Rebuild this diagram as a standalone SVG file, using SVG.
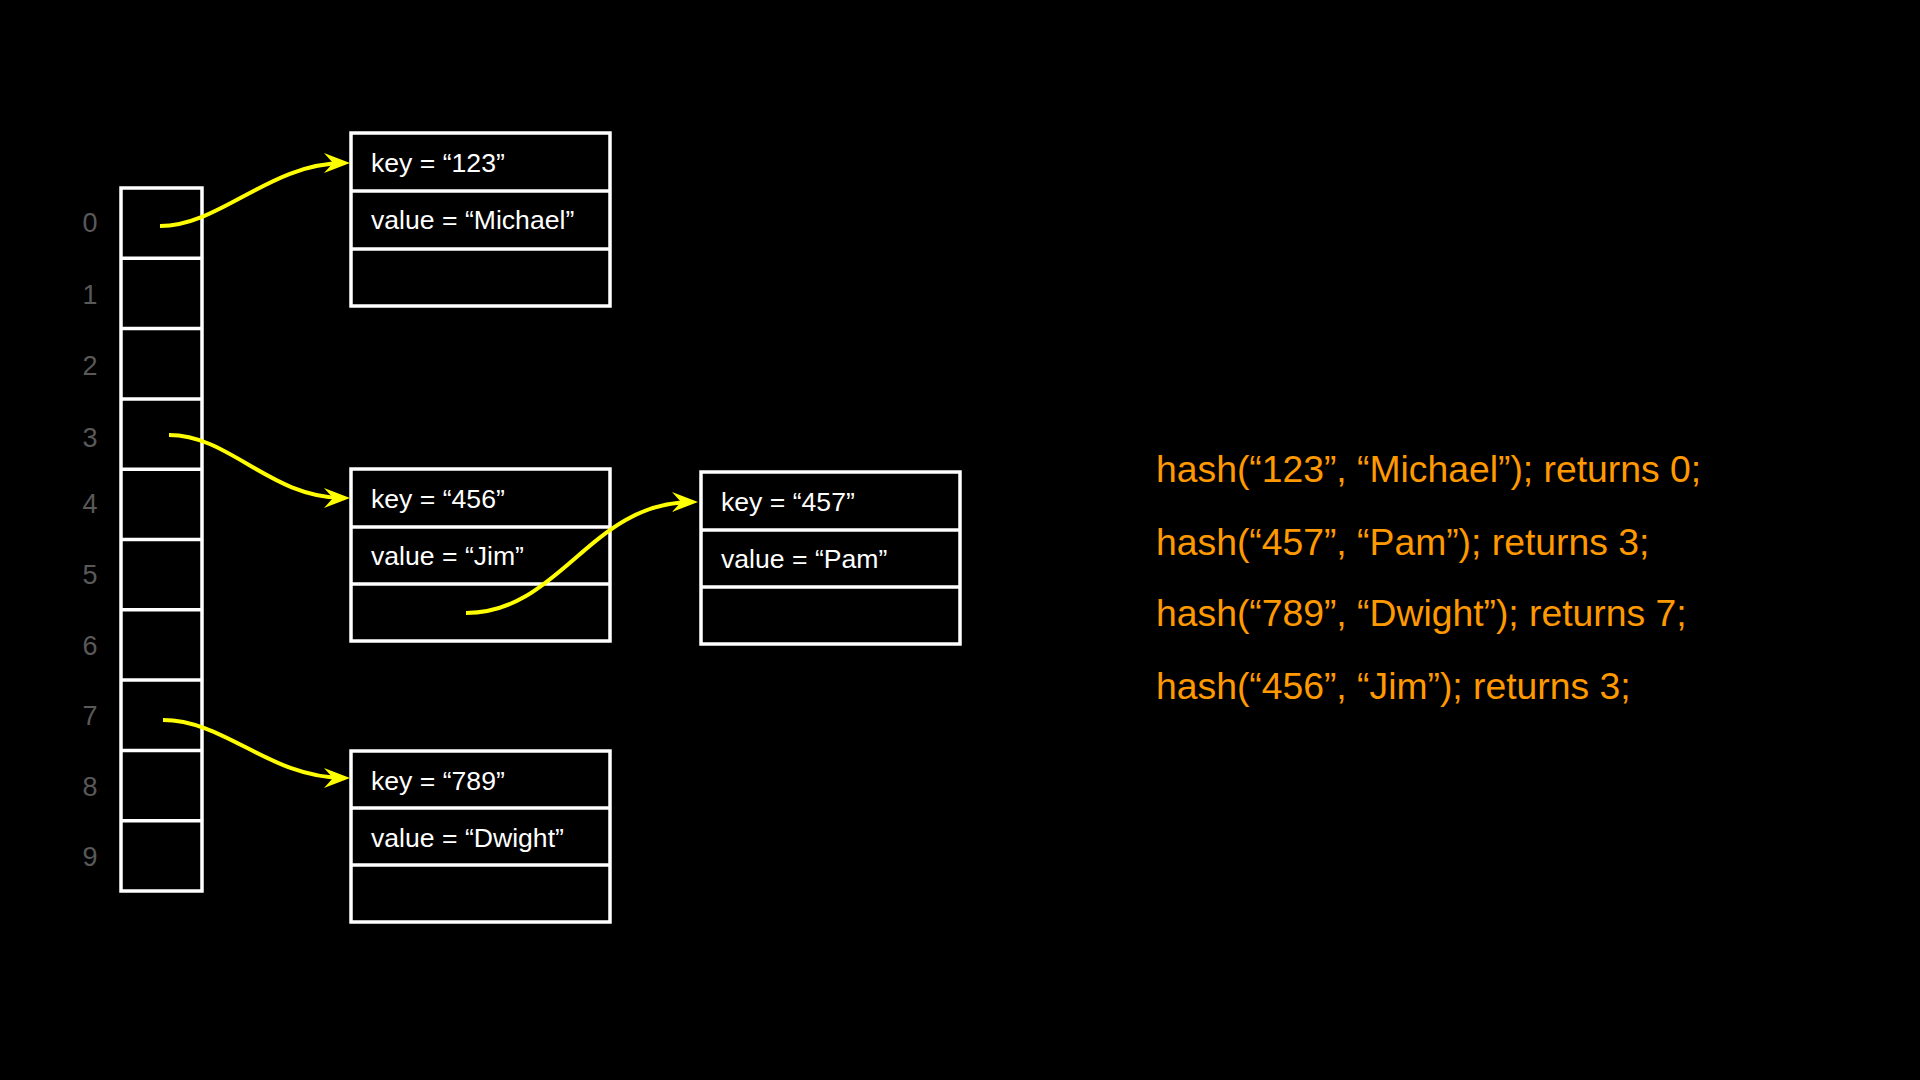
<svg xmlns="http://www.w3.org/2000/svg" width="1920" height="1080" viewBox="0 0 1920 1080">
<defs>
<style>
.cell{fill:none;stroke:#fff;stroke-width:3.5}
.idx{font-family:"Liberation Sans",Arial,sans-serif;font-size:27px;fill:#595959;text-anchor:middle}
.lbl{font-family:"Liberation Sans",Arial,sans-serif;font-size:26.6px;fill:#fff}
.hash{font-family:"Liberation Sans",Arial,sans-serif;font-size:37.3px;fill:#ff9900}
.con{fill:none;stroke:#ffff00;stroke-width:4;marker-end:url(#arr)}
</style>
<marker id="arr" markerUnits="userSpaceOnUse" markerWidth="34" markerHeight="26" viewBox="-28 -13 34 26" refX="-6" refY="0" orient="auto">
<path d="M0,0 L-26,-10 L-17,0 L-26,10 Z" fill="#ffff00"/>
</marker>
</defs>
<rect width="1920" height="1080" fill="#000"/>

<g id="array">
<rect class="cell" x="121" y="188" width="81" height="703"/>
<path class="cell" d="M121,258.3H202M121,328.6H202M121,398.9H202M121,469.2H202M121,539.5H202M121,609.8H202M121,680.1H202M121,750.4H202M121,820.7H202"/>
<text class="idx" x="90" y="232">0</text>
<text class="idx" x="90" y="304">1</text>
<text class="idx" x="90" y="375">2</text>
<text class="idx" x="90" y="447">3</text>
<text class="idx" x="90" y="513">4</text>
<text class="idx" x="90" y="584">5</text>
<text class="idx" x="90" y="655">6</text>
<text class="idx" x="90" y="725">7</text>
<text class="idx" x="90" y="796">8</text>
<text class="idx" x="90" y="866">9</text>
</g>

<g id="node-123">
<rect class="cell" x="351" y="133" width="259" height="173"/>
<path class="cell" d="M351,191H610M351,249H610"/>
<text class="lbl" x="371" y="172">key = “123”</text>
<text class="lbl" x="371" y="229">value = “Michael”</text>
</g>

<g id="node-456">
<rect class="cell" x="351" y="469" width="259" height="172"/>
<path class="cell" d="M351,527H610M351,584H610"/>
<text class="lbl" x="371" y="508">key = “456”</text>
<text class="lbl" x="371" y="565">value = “Jim”</text>
</g>

<g id="node-457">
<rect class="cell" x="701" y="472" width="259" height="172"/>
<path class="cell" d="M701,530H960M701,587H960"/>
<text class="lbl" x="721" y="511">key = “457”</text>
<text class="lbl" x="721" y="568">value = “Pam”</text>
</g>

<g id="node-789">
<rect class="cell" x="351" y="751" width="259" height="171"/>
<path class="cell" d="M351,808H610M351,865H610"/>
<text class="lbl" x="371" y="790">key = “789”</text>
<text class="lbl" x="371" y="847">value = “Dwight”</text>
</g>

<g id="connectors">
<path class="con" d="M160,226 C220,226 270,163 344,163"/>
<path class="con" d="M169,435 C230,435 270,498 344,498"/>
<path class="con" d="M163,720 C225,720 270,778 344,778"/>
<path class="con" d="M466,613 C560,613 590,502 692,502"/>
</g>

<g id="hash-calls">
<text class="hash" x="1156" y="482">hash(“123”, “Michael”); returns 0;</text>
<text class="hash" x="1156" y="555">hash(“457”, “Pam”); returns 3;</text>
<text class="hash" x="1156" y="626">hash(“789”, “Dwight”); returns 7;</text>
<text class="hash" x="1156" y="699">hash(“456”, “Jim”); returns 3;</text>
</g>
</svg>
